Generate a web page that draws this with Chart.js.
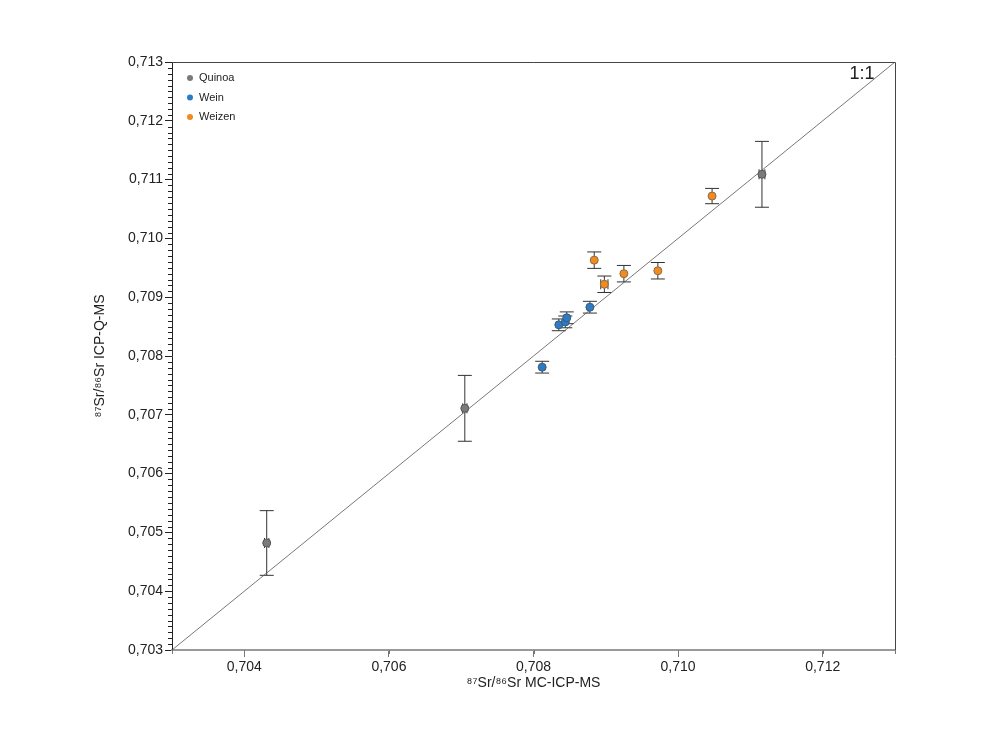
<!DOCTYPE html>
<html>
<head>
<meta charset="utf-8">
<script src="https://cdn.jsdelivr.net/npm/chart.js@4.4.0/dist/chart.umd.min.js"></script>
<style>
  html, body { margin: 0; padding: 0; background: #fff; }
  #wrap { width: 1000px; height: 750px; position: relative; }
</style>
</head>
<body>
<div id="wrap"><canvas id="chart" width="1000" height="750"></canvas></div>
<script>
// Data (87Sr/86Sr, MC-ICP-MS vs ICP-Q-MS)
const quinoaX = [0.70431, 0.70705, 0.71116];
const quinoaY = [0.70482, 0.70711, 0.71109];
const quinoaYErr = [0.00055, 0.00056, 0.00056];
const quinoaXErr = [0.00003, 0.00003, 0.00004];

const weinX = [0.70812, 0.70835, 0.70844, 0.70846, 0.70878];
const weinY = [0.70781, 0.70853, 0.70858, 0.70865, 0.70883];
const weinYErr = [0.0001, 0.0001, 0.0001, 0.0001, 0.0001];
const weinXErr = [0, 0, 0, 0, 0];

const weizenX = [0.70884, 0.70898, 0.70925, 0.70972, 0.71047];
const weizenY = [0.70963, 0.70922, 0.70940, 0.70945, 0.71072];
const weizenYErr = [0.00014, 0.00014, 0.00014, 0.00014, 0.00013];
const weizenXErr = [0, 0.00005, 0, 0, 0];

const oneToOne = [0.703, 0.713];
const axisMin = 0.703;
const axisMax = 0.713;

const fmt = v => v.toFixed(3).replace('.', ',');
const toPoints = (xs, ys) => xs.map((x, i) => ({ x: x, y: ys[i] }));

const FONT = '"Liberation Sans", Arial, Helvetica, sans-serif';

const series = [
  { label: 'Quinoa', x: quinoaX, y: quinoaY, yErr: quinoaYErr, xErr: quinoaXErr, fill: '#7a7a7a', edge: '#555555' },
  { label: 'Wein', x: weinX, y: weinY, yErr: weinYErr, xErr: weinXErr, fill: '#2e7bc4', edge: '#3a5a78' },
  { label: 'Weizen', x: weizenX, y: weizenY, yErr: weizenYErr, xErr: weizenXErr, fill: '#f28a1e', edge: '#8a6a4a' }
];

// error bars, drawn under the points
const errorBars = {
  id: 'errorBars',
  beforeDatasetsDraw(chart) {
    const ctx = chart.ctx;
    const xs = chart.scales.x, ys = chart.scales.y;
    ctx.save();
    ctx.strokeStyle = '#333';
    ctx.lineWidth = 1;
    series.forEach(s => {
      s.x.forEach((xv, i) => {
        const px = xs.getPixelForValue(xv);
        const py = ys.getPixelForValue(s.y[i]);
        const e = s.yErr[i];
        if (e) {
          const t = ys.getPixelForValue(s.y[i] + e);
          const b = ys.getPixelForValue(s.y[i] - e);
          ctx.beginPath();
          ctx.moveTo(px, t); ctx.lineTo(px, b);
          ctx.moveTo(px - 7, t); ctx.lineTo(px + 7, t);
          ctx.moveTo(px - 7, b); ctx.lineTo(px + 7, b);
          ctx.stroke();
        }
        const ex = s.xErr[i];
        if (ex) {
          const l = xs.getPixelForValue(xv - ex);
          const r = xs.getPixelForValue(xv + ex);
          ctx.beginPath();
          ctx.moveTo(l, py); ctx.lineTo(r, py);
          ctx.moveTo(l, py - 5); ctx.lineTo(l, py + 5);
          ctx.moveTo(r, py - 5); ctx.lineTo(r, py + 5);
          ctx.stroke();
        }
      });
    });
    ctx.restore();
  }
};

// frame, minor ticks, legend and the 1:1 label
const decorations = {
  id: 'decorations',
  afterDraw(chart) {
    const ctx = chart.ctx;
    const a = chart.chartArea;
    const xs = chart.scales.x, ys = chart.scales.y;
    ctx.save();

    // top and right border
    ctx.strokeStyle = '#444';
    ctx.lineWidth = 1;
    ctx.beginPath();
    ctx.moveTo(a.left, a.top + 0.5); ctx.lineTo(a.right + 0.5, a.top + 0.5);
    ctx.lineTo(a.right + 0.5, a.bottom);
    ctx.stroke();

    // y minor ticks every 0.0001
    ctx.strokeStyle = '#222';
    ctx.beginPath();
    for (let k = 0; k <= 100; k++) {
      if (k % 10 === 0) continue;
      const py = Math.round(ys.getPixelForValue(axisMin + k * 0.0001)) + 0.5;
      ctx.moveTo(a.left - 4, py); ctx.lineTo(a.left, py);
    }
    ctx.stroke();

    // x short ticks at odd thousandths
    ctx.strokeStyle = '#777';
    ctx.beginPath();
    for (let k = 0; k <= 10; k++) {
      if (k % 2 === 1 || k === 0 || k === 10) {
        const px = Math.round(xs.getPixelForValue(axisMin + k * 0.001)) + 0.5;
        ctx.moveTo(px, a.bottom); ctx.lineTo(px, a.bottom + 4);
      }
    }
    ctx.stroke();

    // legend
    ctx.font = '11px ' + FONT;
    ctx.textBaseline = 'middle';
    series.forEach((s, i) => {
      const ly = a.top + 16 + i * 19.5;
      ctx.beginPath();
      ctx.arc(a.left + 18, ly, 3, 0, Math.PI * 2);
      ctx.fillStyle = s.fill;
      ctx.fill();
      ctx.fillStyle = '#222';
      ctx.fillText(s.label, a.left + 27, ly);
    });

    // 1:1
    ctx.font = '18px ' + FONT;
    ctx.textAlign = 'center';
    ctx.fillStyle = '#222';
    ctx.fillText('1:1', a.right - 33, a.top + 12);

    ctx.restore();
  }
};

const datasets = [
  {
    type: 'line',
    label: '1:1',
    data: toPoints(oneToOne, oneToOne),
    borderColor: '#555',
    borderWidth: 0.8,
    pointRadius: 0,
    fill: false,
    order: 5
  }
].concat(series.map(s => ({
  type: 'scatter',
  label: s.label,
  data: toPoints(s.x, s.y),
  backgroundColor: s.fill,
  borderColor: s.edge,
  borderWidth: 1,
  pointRadius: 4,
  order: 1
})));

new Chart(document.getElementById('chart'), {
  type: 'scatter',
  data: { datasets },
  options: {
    responsive: false,
    animation: false,
    layout: { padding: { top: 62, right: 105, left: 90, bottom: 56 } },
    plugins: {
      legend: { display: false },
      tooltip: { enabled: false }
    },
    scales: {
      x: {
        type: 'linear',
        min: axisMin,
        max: axisMax,
        afterFit: s => { s.height = 44; },
        afterBuildTicks: s => {
          s.ticks = [];
          for (let k = 0; k <= 10; k++) s.ticks.push({ value: +(axisMin + k * 0.001).toFixed(4) });
        },
        border: { display: true, color: '#999', width: 2 },
        grid: {
          drawOnChartArea: false,
          tickLength: 7,
          tickColor: c => (Math.round(c.tick.value * 1000) % 2 === 0 && c.index !== 0 && c.index !== 10) ? '#777' : 'rgba(0,0,0,0)'
        },
        ticks: {
          autoSkip: false,
          maxRotation: 0,
          color: '#222',
          font: { family: FONT, size: 14 },
          padding: 2,
          callback: (v, i) => (Math.round(v * 1000) % 2 === 0 && i !== 0 && i !== 10) ? fmt(v) : ''
        },
        title: {
          display: true,
          text: '⁸⁷Sr/⁸⁶Sr MC-ICP-MS',
          color: '#222',
          font: { family: FONT, size: 14 },
          padding: { top: 0, bottom: 2 }
        }
      },
      y: {
        type: 'linear',
        min: axisMin,
        max: axisMax,
        afterFit: s => { s.width = 82; },
        afterBuildTicks: s => {
          s.ticks = [];
          for (let k = 0; k <= 10; k++) s.ticks.push({ value: +(axisMin + k * 0.001).toFixed(4) });
        },
        border: { display: true, color: '#222', width: 1 },
        grid: { drawOnChartArea: false, tickLength: 7, tickColor: '#222' },
        ticks: {
          autoSkip: false,
          color: '#222',
          font: { family: FONT, size: 14 },
          padding: 2,
          callback: v => fmt(v)
        },
        title: {
          display: true,
          text: '⁸⁷Sr/⁸⁶Sr ICP-Q-MS',
          color: '#222',
          font: { family: FONT, size: 14 },
          padding: { top: 2, bottom: 0 }
        }
      }
    }
  },
  plugins: [errorBars, decorations]
});
</script>
</body>
</html>
